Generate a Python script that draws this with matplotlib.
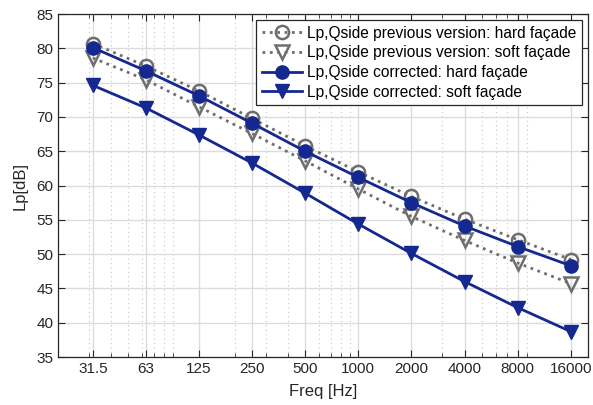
import matplotlib
matplotlib.use("Agg")
import matplotlib.pyplot as plt
from matplotlib.ticker import FixedLocator, LogLocator, NullFormatter, FixedFormatter

freqs = [31.5, 63, 125, 250, 500, 1000, 2000, 4000, 8000, 16000]
freq_labels = ["31.5", "63", "125", "250", "500", "1000", "2000", "4000", "8000", "16000"]
prev_hard = [80.7, 77.4, 73.8, 69.8, 65.8, 62.0, 58.4, 55.1, 52.1, 49.2]
prev_soft = [78.6, 75.4, 71.5, 67.6, 63.6, 59.5, 55.5, 52.0, 48.7, 45.7]
corr_hard = [80.1, 76.7, 73.1, 69.1, 65.0, 61.2, 57.5, 54.1, 51.1, 48.3]
corr_soft = [74.6, 71.3, 67.4, 63.3, 58.9, 54.4, 50.1, 46.0, 42.2, 38.7]

labels = ["Lp,Qside previous version: hard façade",
          "Lp,Qside previous version: soft façade",
          "Lp,Qside corrected: hard façade",
          "Lp,Qside corrected: soft façade"]

plt.rcParams['font.family'] = ['Liberation Sans', 'DejaVu Sans']

fig = plt.figure(figsize=(5.93, 4.05), dpi=100)
ax = fig.add_axes([0.0978, 0.1185, 0.8938, 0.8469])

gray = '#6e6e6e'
blue = '#14288f'
ms = 9.5
ax.plot(freqs, prev_hard, linestyle=':', color=gray, lw=2, marker='o', ms=ms,
        mfc='none', mec=gray, mew=1.8, label=labels[0], zorder=3)
ax.plot(freqs, prev_soft, linestyle=':', color=gray, lw=2, marker='v', ms=ms,
        mfc='none', mec=gray, mew=1.8, label=labels[1], zorder=3)
ax.plot(freqs, corr_hard, linestyle='-', color=blue, lw=2, marker='o', ms=ms,
        mfc=blue, mec=blue, label=labels[2], zorder=4)
ax.plot(freqs, corr_soft, linestyle='-', color=blue, lw=2, marker='v', ms=ms + 1,
        mfc=blue, mec=blue, label=labels[3], zorder=4)

ax.set_xscale('log')
ax.set_xlim(20, 20000)
ax.set_ylim(35, 85)
ax.xaxis.set_major_locator(FixedLocator(freqs))
ax.xaxis.set_major_formatter(FixedFormatter(freq_labels))
ax.xaxis.set_minor_locator(LogLocator(base=10, subs=[2, 3, 4, 5, 6, 7, 8, 9], numticks=20))
ax.xaxis.set_minor_formatter(NullFormatter())
ax.set_yticks(range(35, 90, 5))

ax.grid(True, which='major', color='#dcdcdc', lw=1.0, linestyle='-', zorder=0)
ax.grid(True, which='minor', axis='x', color='#c8c8c8', lw=0.8, linestyle=(0, (1, 3)), zorder=0)
ax.set_axisbelow(True)

ax.tick_params(which='both', direction='in', top=True, right=True, labelsize=11, colors='#262626')
ax.tick_params(which='major', length=5, width=0.8)
ax.tick_params(which='minor', length=3, width=0.6)
for s in ax.spines.values():
    s.set_color('#262626')
    s.set_linewidth(0.9)

ax.set_xlabel('Freq [Hz]', fontsize=12, color='#262626', labelpad=6)
ax.set_ylabel('Lp[dB]', fontsize=12, color='#262626', labelpad=6)

leg = ax.legend(loc='upper right', fontsize=11.2, frameon=True, fancybox=False,
                edgecolor='#262626', framealpha=1, borderpad=0.35, labelspacing=0.3,
                handlelength=2.6, handletextpad=0.3, borderaxespad=0.4)
leg.get_frame().set_linewidth(0.9)

fig.savefig('out.png', dpi=100)
